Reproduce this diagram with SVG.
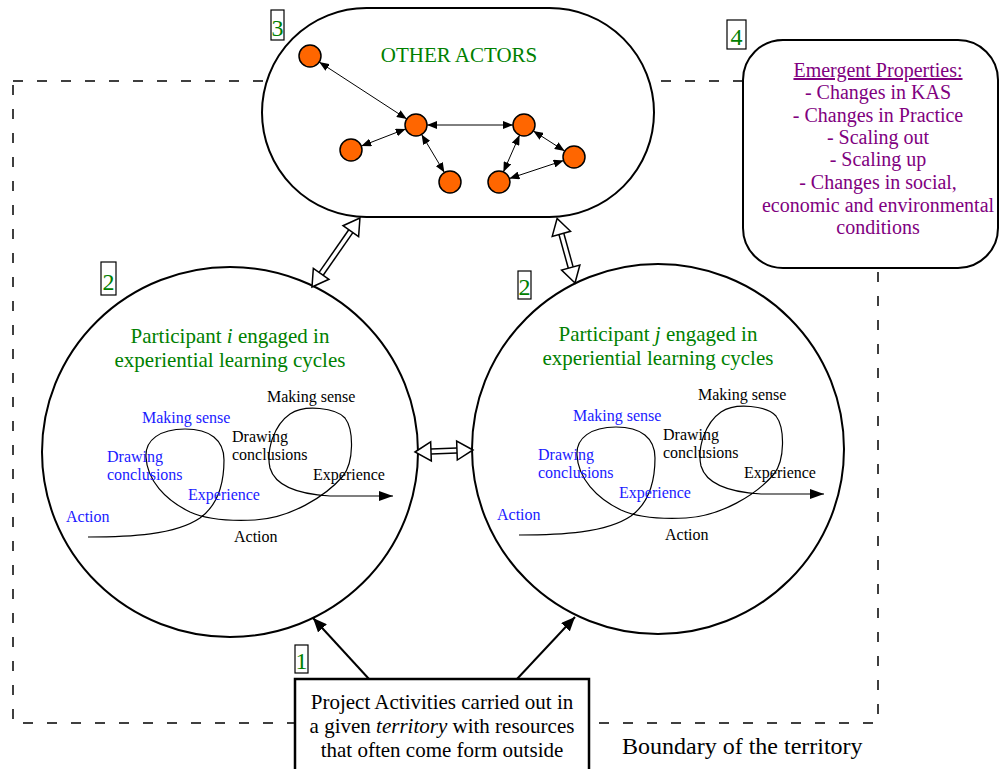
<svg xmlns="http://www.w3.org/2000/svg" width="1000" height="769" viewBox="0 0 1000 769">
<style>
text{font-family:"Liberation Serif","Times New Roman",serif}
.g{fill:#008000}
.num{font-size:24px;fill:#008000;text-anchor:middle}
.nbox{fill:#fff;stroke:#000;stroke-width:1.2}
.shape{fill:#fff;stroke:#000;stroke-width:2}
.part{font-size:21px;fill:#008000;text-anchor:middle}
.cyc{font-size:16px}
.bl{fill:#1a1aff}
.bk{fill:#000}
.node{fill:#ff6600;stroke:#000;stroke-width:1.5}
.edge{stroke:#000;stroke-width:1;fill:none;marker-start:url(#sa);marker-end:url(#sa)}
.pa{stroke:#000;stroke-width:2;fill:none;marker-end:url(#pa)}
.hol{fill:#fff;stroke:#000;stroke-width:1.5}
.em{font-size:20px;fill:#800080;text-anchor:middle}
</style>
<defs>
<marker id="sa" markerUnits="userSpaceOnUse" markerWidth="10" markerHeight="8" refX="10" refY="4" orient="auto-start-reverse"><path d="M0,0 L10,4 L0,8 z" fill="#000"/></marker>
<marker id="pa" markerUnits="userSpaceOnUse" markerWidth="14" markerHeight="12" refX="14" refY="6" orient="auto"><path d="M0,0 L14,6 L0,12 z" fill="#000"/></marker>
<marker id="ca" markerUnits="userSpaceOnUse" markerWidth="14" markerHeight="10" refX="14" refY="5" orient="auto"><path d="M0,0 L14,5 L0,10 z" fill="#000"/></marker>
<g id="cycle">
<path d="M88,537 C130,537 175,535 200,518 C218,505 224,482 224,460 C224,440 210,429 185,429 C160,429 145,440 146,457 C147,480 165,500 190,512 C210,521 235,521 255,520 C290,518 325,497 343,476 C354,462 354,430 345,418 C336,408 305,404 290,414 C274,425 266,450 270,468 C275,485 295,494 330,496 L393,496" fill="none" stroke="#000" stroke-width="1.2" marker-end="url(#ca)"/>
<text class="cyc bl" x="142" y="423">Making sense</text>
<text class="cyc bl" x="107" y="462">Drawing</text>
<text class="cyc bl" x="107" y="480">conclusions</text>
<text class="cyc bl" x="188" y="500">Experience</text>
<text class="cyc bl" x="66" y="522">Action</text>
<text class="cyc bk" x="267" y="402">Making sense</text>
<text class="cyc bk" x="232" y="442">Drawing</text>
<text class="cyc bk" x="232" y="460">conclusions</text>
<text class="cyc bk" x="313" y="480">Experience</text>
<text class="cyc bk" x="234" y="542">Action</text>
</g>
</defs>

<g id="boundary">
<rect x="13" y="81" width="865" height="642" fill="none" stroke="#000" stroke-width="1.5" stroke-dasharray="10,14"/>
<text x="622" y="754" font-size="24" fill="#000">Boundary of the territory</text>
</g>

<g id="other-actors">
<rect class="shape" x="262" y="8" width="392" height="209" rx="104.5" ry="104.5"/>
<text x="459" y="62" font-size="21" class="g" text-anchor="middle">OTHER ACTORS</text>
</g>

<g id="actor-network">
<g id="actor-edges">
<line class="edge" x1="319.2" y1="62" x2="406.8" y2="119"/>
<line class="edge" x1="361.3" y1="146.1" x2="405.7" y2="128.9"/>
<line class="edge" x1="421.6" y1="134.4" x2="444.4" y2="172.6"/>
<line class="edge" x1="427" y1="125" x2="513" y2="125"/>
<line class="edge" x1="519.6" y1="135.1" x2="503.4" y2="171.9"/>
<line class="edge" x1="533.3" y1="130.9" x2="564.7" y2="151.1"/>
<line class="edge" x1="509.4" y1="178.5" x2="563.6" y2="160.5"/>
</g>
<circle class="node" cx="310" cy="56" r="11"/>
<circle class="node" cx="416" cy="125" r="11"/>
<circle class="node" cx="351" cy="150" r="11"/>
<circle class="node" cx="450" cy="182" r="11"/>
<circle class="node" cx="524" cy="125" r="11"/>
<circle class="node" cx="574" cy="157" r="11"/>
<circle class="node" cx="499" cy="182" r="11"/>
</g>

<g id="emergent">
<rect class="shape" x="743" y="40" width="255" height="228" rx="40" ry="40"/>
<text class="em" x="878" y="77" text-decoration="underline">Emergent Properties:</text>
<text class="em" x="878" y="99">- Changes in KAS</text>
<text class="em" x="878" y="122">- Changes in Practice</text>
<text class="em" x="878" y="144">- Scaling out</text>
<text class="em" x="878" y="166">- Scaling up</text>
<text class="em" x="878" y="189">- Changes in social,</text>
<text class="em" x="878" y="212">economic and environmental</text>
<text class="em" x="878" y="234">conditions</text>
</g>

<g id="participant-i">
<ellipse class="shape" cx="230" cy="452" rx="188" ry="185"/>
<text class="part" x="230" y="343">Participant <tspan font-style="italic">i</tspan> engaged in</text>
<text class="part" x="230" y="367">experiential learning cycles</text>
<use href="#cycle"/>
</g>

<g id="participant-j">
<ellipse class="shape" cx="658" cy="449" rx="186" ry="185"/>
<text class="part" x="658" y="341">Participant <tspan font-style="italic">j</tspan> engaged in</text>
<text class="part" x="658" y="365">experiential learning cycles</text>
<use href="#cycle" transform="translate(431,-2)"/>
</g>

<g id="project">
<rect x="295" y="679" width="294" height="100" fill="#fff" stroke="#000" stroke-width="2.5"/>
<text x="442" y="709" font-size="21" text-anchor="middle">Project Activities carried out in</text>
<text x="442" y="733" font-size="21" text-anchor="middle">a given <tspan font-style="italic">territory</tspan> with resources</text>
<text x="442" y="757" font-size="21" text-anchor="middle">that often come form outside</text>
</g>

<g id="connectors">
<line class="pa" x1="369" y1="679" x2="313" y2="618"/>
<line class="pa" x1="517" y1="679" x2="575" y2="617"/>
<g transform="translate(312,287) rotate(-55.2)">
<line x1="16" y1="-2.5" x2="68" y2="-2.5" stroke="#000" stroke-width="1.5"/>
<line x1="16" y1="2.5" x2="68" y2="2.5" stroke="#000" stroke-width="1.5"/>
<path class="hol" d="M0,0 L16,-9.5 L16,9.5 z"/>
<path class="hol" d="M84,0 L68,-9.5 L68,9.5 z"/>
</g>
<g transform="translate(575,283) rotate(-105.5)">
<line x1="16" y1="-2.5" x2="51" y2="-2.5" stroke="#000" stroke-width="1.5"/>
<line x1="16" y1="2.5" x2="51" y2="2.5" stroke="#000" stroke-width="1.5"/>
<path class="hol" d="M0,0 L16,-9.5 L16,9.5 z"/>
<path class="hol" d="M67,0 L51,-9.5 L51,9.5 z"/>
</g>
<g transform="translate(415,452) rotate(-2)">
<line x1="16" y1="-2.5" x2="42" y2="-2.5" stroke="#000" stroke-width="1.5"/>
<line x1="16" y1="2.5" x2="42" y2="2.5" stroke="#000" stroke-width="1.5"/>
<path class="hol" d="M0,0 L16,-9.5 L16,9.5 z"/>
<path class="hol" d="M58,0 L42,-9.5 L42,9.5 z"/>
</g>
</g>

<g id="labels">
<rect class="nbox" x="271" y="10" width="13" height="30"/><text class="num" x="277.5" y="36">3</text>
<rect class="nbox" x="727" y="20" width="19" height="29"/><text class="num" x="736.5" y="45">4</text>
<rect class="nbox" x="101" y="262" width="15" height="33"/><text class="num" x="108.5" y="290">2</text>
<rect class="nbox" x="518" y="271" width="13" height="28"/><text class="num" x="524.5" y="295">2</text>
<rect class="nbox" x="295" y="645" width="13" height="28"/><text class="num" x="301.5" y="669">1</text>
</g>
</svg>
